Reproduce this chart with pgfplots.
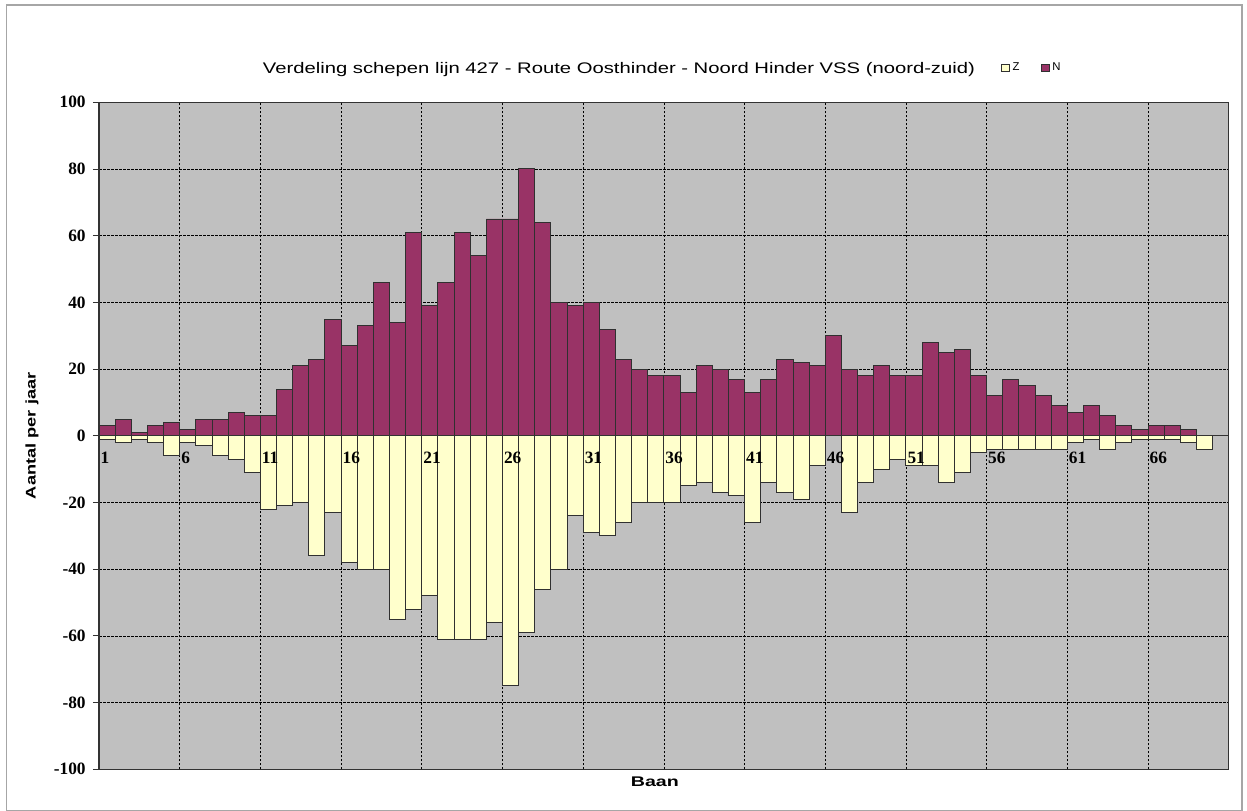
\documentclass[border=0pt]{standalone}
\usepackage{fontspec}
\setmainfont{Liberation Sans}
\newfontfamily\serifb{Liberation Serif}
\usepackage{graphicx}
\usepackage{pgfplots}
\pgfplotsset{compat=1.18}
\definecolor{nbar}{HTML}{993366}
\definecolor{zbar}{HTML}{FFFFCC}
\definecolor{plotbg}{HTML}{C0C0C0}
\definecolor{edge}{HTML}{303030}
\begin{document}
\begin{tikzpicture}
\path[use as bounding box] (0,0) rectangle (935.25pt,608.25pt);
\draw[gray!70, line width=0.8pt] (5pt,0.4pt) rectangle (931.5pt,604.5pt);
\begin{axis}[
  at={(74.25pt,31.3pt)}, anchor=south west,
  scale only axis, width=847.3pt, height=500.25pt,
  xmin=0.5, xmax=70.5, ymin=-100, ymax=100,
  enlargelimits=false,
  axis background/.style={fill=plotbg},
  axis line style={draw=gray!40!black, line width=0.8pt},
  xtick={0.5,5.5,...,70.5}, xticklabels={},
  x tick style={draw=none},
  ytick={-100,-80,...,100},
  ytick pos=left, tick align=outside,
  y tick style={draw=gray!40!black, line width=0.6pt},
  major tick length=4.5pt,
  grid=major,
  major grid style={black, line width=0.5pt, dash pattern=on 2pt off 1pt},
  /pgf/number format/assume math mode=true,
  yticklabel style={font=\serifb\bfseries\fontsize{13}{14}\selectfont, xshift=-2pt},
  xlabel={\resizebox{36pt}{\height}{\bfseries\fontsize{10.5}{12}\selectfont Baan}},
  xlabel style={at={(axis description cs:0.492,-0.019)}, anchor=center},
  ylabel={\resizebox{95pt}{\height}{\bfseries\fontsize{10.5}{12}\selectfont Aantal per jaar}},
  ylabel style={at={(axis description cs:-0.0593,0.5)}, anchor=center, rotate=0},
  legend style={at={(axis description cs:0.795,1.0514)}, anchor=west, draw=none, fill=none,
    font=\fontsize{8.5}{9}\selectfont, legend columns=2,
    /tikz/every even column/.append style={column sep=14pt}},
  legend image code/.code={\draw[#1, line width=0.5pt] (0pt,-2.8pt) rectangle (6pt,2.8pt);},
  clip=false,
]
\addplot[ybar, bar width=1, bar shift=0pt, fill=zbar, draw=edge, line width=0.7pt] coordinates {
(1,-1) (2,-2) (3,-1) (4,-2) (5,-6) (6,-2) (7,-3) (8,-6) (9,-7) (10,-11)
(11,-22) (12,-21) (13,-20) (14,-36) (15,-23) (16,-38) (17,-40) (18,-40) (19,-55) (20,-52)
(21,-48) (22,-61) (23,-61) (24,-61) (25,-56) (26,-75) (27,-59) (28,-46) (29,-40) (30,-24)
(31,-29) (32,-30) (33,-26) (34,-20) (35,-20) (36,-20) (37,-15) (38,-14) (39,-17) (40,-18)
(41,-26) (42,-14) (43,-17) (44,-19) (45,-9) (47,-23) (48,-14) (49,-10) (50,-7)
(51,-9) (52,-9) (53,-14) (54,-11) (55,-5) (56,-4) (57,-4) (58,-4) (59,-4) (60,-4)
(61,-2) (62,-1) (63,-4) (64,-2) (65,-1) (66,-1) (67,-1) (68,-2) (69,-4)
};
\addlegendentry{Z}
\addplot[ybar, bar width=1, bar shift=0pt, fill=nbar, draw=edge, line width=0.7pt] coordinates {
(1,3) (2,5) (3,1) (4,3) (5,4) (6,2) (7,5) (8,5) (9,7) (10,6)
(11,6) (12,14) (13,21) (14,23) (15,35) (16,27) (17,33) (18,46) (19,34) (20,61)
(21,39) (22,46) (23,61) (24,54) (25,65) (26,65) (27,80) (28,64) (29,40) (30,39)
(31,40) (32,32) (33,23) (34,20) (35,18) (36,18) (37,13) (38,21) (39,20) (40,17)
(41,13) (42,17) (43,23) (44,22) (45,21) (46,30) (47,20) (48,18) (49,21) (50,18)
(51,18) (52,28) (53,25) (54,26) (55,18) (56,12) (57,17) (58,15) (59,12) (60,9)
(61,7) (62,9) (63,6) (64,3) (65,2) (66,3) (67,3) (68,2)
};
\addlegendentry{N}
\draw[gray!40!black, line width=0.8pt] (axis cs:0.5,0) -- (axis cs:70.5,0);
\begin{scope}[every node/.style={anchor=north west, inner sep=0pt, xshift=1pt, yshift=-12pt, font=\serifb\bfseries\fontsize{13}{14}\selectfont}]
\node at (axis cs:0.5,0) {1};
\node at (axis cs:5.5,0) {6};
\node at (axis cs:10.5,0) {11};
\node at (axis cs:15.5,0) {16};
\node at (axis cs:20.5,0) {21};
\node at (axis cs:25.5,0) {26};
\node at (axis cs:30.5,0) {31};
\node at (axis cs:35.5,0) {36};
\node at (axis cs:40.5,0) {41};
\node at (axis cs:45.5,0) {46};
\node at (axis cs:50.5,0) {51};
\node at (axis cs:55.5,0) {56};
\node at (axis cs:60.5,0) {61};
\node at (axis cs:65.5,0) {66};
\end{scope}
\end{axis}
\node at (464.25pt,555.75pt) {\resizebox{534pt}{\height}{\fontsize{11.5}{13}\selectfont Verdeling schepen lijn 427 - Route Oosthinder - Noord Hinder VSS (noord-zuid)}};
\end{tikzpicture}
\end{document}
